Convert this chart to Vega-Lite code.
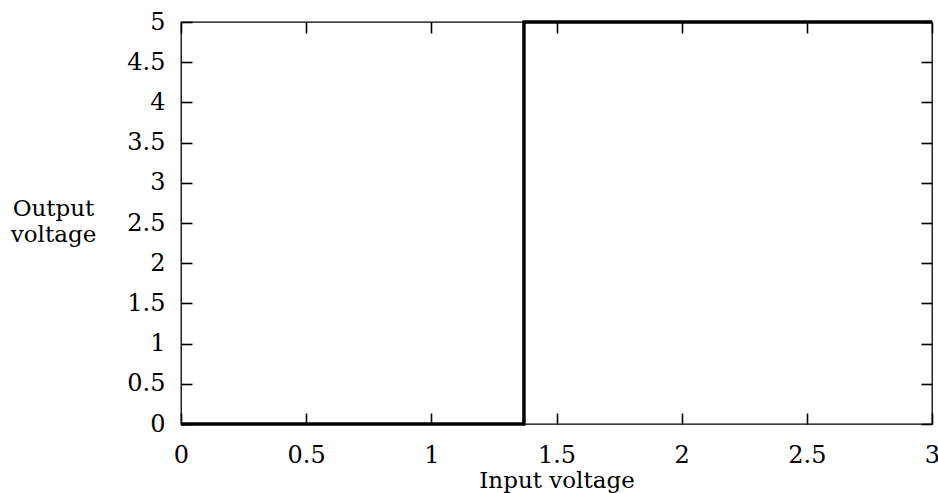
{
  "$schema": "https://vega.github.io/schema/vega-lite/v6.json",
  "width": 751,
  "height": 402,
  "autosize": {"type": "none"},
  "padding": {"left": 181, "top": 22, "right": 6, "bottom": 69},
  "background": "white",
  "data": {
    "values": [
      {"i": 0, "vin": 0, "vout": 0},
      {"i": 1, "vin": 1.37, "vout": 0},
      {"i": 2, "vin": 1.37, "vout": 5},
      {"i": 3, "vin": 3, "vout": 5}
    ]
  },
  "config": {
    "view": {"stroke": "black", "strokeWidth": 1.3},
    "axis": {
      "domain": false,
      "offset": -11,
      "ticks": true,
      "tickColor": "black",
      "tickWidth": 1.6,
      "tickSize": 11,
      "grid": false,
      "labelFont": "DejaVu Serif",
      "labelFontSize": 24,
      "labelColor": "black",
      "titleFont": "DejaVu Serif",
      "titleFontSize": 23,
      "titleFontWeight": "normal",
      "titleColor": "black"
    }
  },
  "encoding": {
    "x": {"field": "vin", "type": "quantitative", "scale": {"domain": [0, 3], "nice": false, "zero": false}},
    "y": {"field": "vout", "type": "quantitative", "scale": {"domain": [0, 5], "nice": false, "zero": false}},
    "order": {"field": "i", "type": "ordinal"}
  },
  "layer": [
    {
      "mark": {"type": "line", "color": "black", "strokeWidth": 3, "clip": false},
      "encoding": {
        "x": {
          "field": "vin", "type": "quantitative",
          "axis": {
            "orient": "bottom",
            "values": [0, 0.5, 1, 1.5, 2, 2.5, 3],
            "format": "~g",
            "title": "Input voltage",
            "labelBaseline": "alphabetic",
            "labelPadding": 38,
            "labelFlush": false,
            "labelOverlap": false,
            "titleBaseline": "alphabetic",
            "titleY": 74,
            "titleX": 375.5,
            "titleAnchor": "middle"
          }
        },
        "y": {
          "field": "vout", "type": "quantitative",
          "axis": {
            "orient": "left",
            "values": [0, 0.5, 1, 1.5, 2, 2.5, 3, 3.5, 4, 4.5, 5],
            "format": "~g",
            "title": ["Output", "voltage"],
            "titleAngle": 0,
            "titleAlign": "center",
            "titleBaseline": "alphabetic",
            "titleLineHeight": 26,
            "titleX": -139,
            "titleY": 193,
            "labelBaseline": "middle",
            "labelPadding": 16,
            "labelFlush": false,
            "labelOverlap": false
          }
        }
      }
    },
    {
      "mark": {"type": "line", "color": "black", "strokeWidth": 3, "clip": false},
      "encoding": {
        "x": {
          "field": "vin", "type": "quantitative",
          "axis": {"orient": "top", "values": [0, 0.5, 1, 1.5, 2, 2.5, 3], "labels": false, "title": null}
        },
        "y": {
          "field": "vout", "type": "quantitative",
          "axis": {"orient": "right", "values": [0, 0.5, 1, 1.5, 2, 2.5, 3, 3.5, 4, 4.5, 5], "labels": false, "title": null}
        }
      }
    }
  ],
  "resolve": {"axis": {"x": "independent", "y": "independent"}}
}
